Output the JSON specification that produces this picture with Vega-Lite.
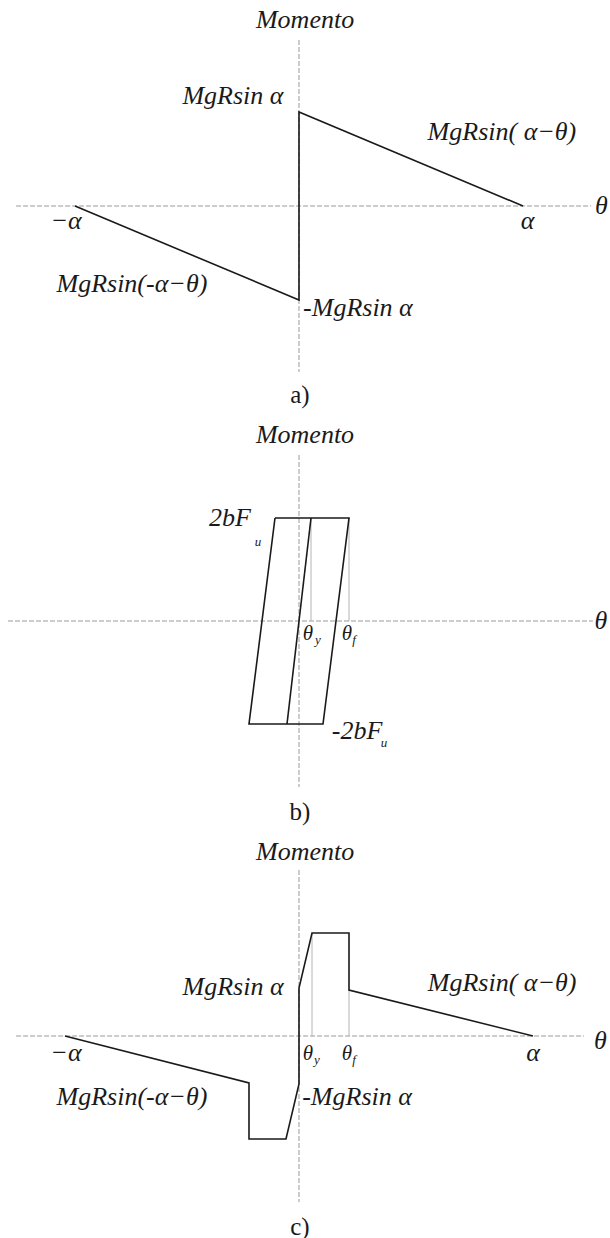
{
  "$schema": "https://vega.github.io/schema/vega-lite/v6.json",
  "background": "white",
  "padding": 0,
  "spacing": 0,
  "config": {"view": {"stroke": null}},
  "datasets": {
    "a_axes": [
      {"t": -1.263, "t2": 1.304, "m": 0, "m2": 0},
      {"t": 0, "t2": 0, "m": 1.766, "m2": -1.766}
    ],
    "a_curve": [
      {"i": 1, "t": -1, "m": 0},
      {"i": 2, "t": 0, "m": -1},
      {"i": 3, "t": 0, "m": 1},
      {"i": 4, "t": 1, "m": 0}
    ],
    "a_labels": [
      {"t": 0.027, "m": 1.979, "label": "Momento"},
      {"t": 1.35, "m": 0, "label": "θ"},
      {"t": -0.295, "m": 1.17, "label": "MgRsin α"},
      {"t": 0.906, "m": 0.787, "label": "MgRsin( α−θ)"},
      {"t": -1.04, "m": -0.16, "label": "−α"},
      {"t": 1.02, "m": -0.16, "label": "α"},
      {"t": -0.746, "m": -0.83, "label": "MgRsin(-α−θ)"},
      {"t": 0.263, "m": -1.085, "label": "-MgRsin α"}
    ],
    "a_caption": [{"t": 0.004, "m": -2.011, "label": "a)"}],
    "b_axes": [
      {"t": -5.82, "t2": 5.88, "m": 0, "m2": 0},
      {"t": 0, "t2": 0, "m": 1.612, "m2": -1.612}
    ],
    "b_guides": [
      {"t": 0.24, "t2": 0.24, "m": 0, "m2": 1},
      {"t": 1, "t2": 1, "m": 0, "m2": 1}
    ],
    "b_curve": [
      {"seg": "loop", "i": 1, "t": -0.48, "m": 1},
      {"seg": "loop", "i": 2, "t": 1, "m": 1},
      {"seg": "loop", "i": 3, "t": 0.48, "m": -1},
      {"seg": "loop", "i": 4, "t": -1, "m": -1},
      {"seg": "loop", "i": 5, "t": -0.48, "m": 1},
      {"seg": "elastic", "i": 1, "t": 0.24, "m": 1},
      {"seg": "elastic", "i": 2, "t": -0.24, "m": -1}
    ],
    "b_labels": [
      {"t": 0.12, "m": 1.806, "label": "Momento"},
      {"t": 6.04, "m": 0, "label": "θ"},
      {"t": -1.38, "m": 1.0, "label": "2bF"},
      {"t": 1.16, "m": -1.068, "label": "-2bF"}
    ],
    "b_theta": [
      {"t": 0.18, "m": -0.126, "label": "θ"},
      {"t": 0.96, "m": -0.126, "label": "θ"}
    ],
    "b_subs": [
      {"t": -0.82, "m": 0.767, "label": "u"},
      {"t": 1.7, "m": -1.184, "label": "u"},
      {"t": 0.38, "m": -0.18, "label": "y"},
      {"t": 1.1, "m": -0.18, "label": "f"}
    ],
    "b_caption": [{"t": 0.02, "m": -1.854, "label": "b)"}],
    "c_axes": [
      {"t": -1.209, "t2": 1.218, "m": 0, "m2": 0},
      {"t": 0, "t2": 0, "m": 3.458, "m2": -3.458}
    ],
    "c_guides": [
      {"t": 0.0556, "t2": 0.0556, "m": 0, "m2": 2.146},
      {"t": 0.2137, "t2": 0.2137, "m": 0, "m2": 0.958}
    ],
    "c_curve": [
      {"i": 1, "t": -1, "m": 0},
      {"i": 2, "t": -0.2137, "m": -0.979},
      {"i": 3, "t": -0.2137, "m": -2.146},
      {"i": 4, "t": -0.0556, "m": -2.146},
      {"i": 5, "t": 0, "m": -1},
      {"i": 6, "t": 0, "m": 1},
      {"i": 7, "t": 0.0556, "m": 2.146},
      {"i": 8, "t": 0.2137, "m": 2.146},
      {"i": 9, "t": 0.2137, "m": 0.958},
      {"i": 10, "t": 1, "m": 0}
    ],
    "c_labels": [
      {"t": 0.026, "m": 3.833, "label": "Momento"},
      {"t": 1.288, "m": -0.1, "label": "θ"},
      {"t": -0.282, "m": 1.021, "label": "MgRsin α"},
      {"t": 0.868, "m": 1.104, "label": "MgRsin( α−θ)"},
      {"t": -0.996, "m": -0.354, "label": "−α"},
      {"t": 1.0, "m": -0.354, "label": "α"},
      {"t": -0.714, "m": -1.271, "label": "MgRsin(-α−θ)"},
      {"t": 0.248, "m": -1.271, "label": "-MgRsin α"}
    ],
    "c_theta": [
      {"t": 0.038, "m": -0.375, "label": "θ"},
      {"t": 0.205, "m": -0.375, "label": "θ"}
    ],
    "c_subs": [
      {"t": 0.076, "m": -0.5, "label": "y"},
      {"t": 0.235, "m": -0.5, "label": "f"}
    ],
    "c_caption": [{"t": 0.004, "m": -3.979, "label": "c)"}]
  },
  "vconcat": [
    {
      "width": 610,
      "height": 413,
      "encoding": {
        "x": {"field": "t", "type": "quantitative", "scale": {"domain": [-1.3348, 1.3884], "nice": false, "zero": false}, "axis": null},
        "y": {"field": "m", "type": "quantitative", "scale": {"domain": [-2.2021, 2.1915], "nice": false, "zero": false}, "axis": null}
      },
      "layer": [
        {
          "data": {"name": "a_axes"},
          "mark": {"type": "rule", "color": "#9a9a9a", "strokeWidth": 1, "strokeDash": [5, 2]},
          "encoding": {"x2": {"field": "t2"}, "y2": {"field": "m2"}}
        },
        {
          "data": {"name": "a_curve"},
          "mark": {"type": "line", "color": "#1a1a1a", "strokeWidth": 1.6},
          "encoding": {"order": {"field": "i"}}
        },
        {
          "data": {"name": "a_labels"},
          "mark": {"type": "text", "font": "Liberation Serif", "fontStyle": "italic", "fontSize": 26, "color": "#1a1a1a", "align": "center", "baseline": "middle"},
          "encoding": {"text": {"field": "label"}}
        },
        {
          "data": {"name": "a_caption"},
          "mark": {"type": "text", "font": "Liberation Serif", "fontSize": 25, "color": "#1a1a1a", "align": "center", "baseline": "middle"},
          "encoding": {"text": {"field": "label"}}
        }
      ]
    },
    {
      "width": 610,
      "height": 413,
      "encoding": {
        "x": {"field": "t", "type": "quantitative", "scale": {"domain": [-5.98, 6.22], "nice": false, "zero": false}, "axis": null},
        "y": {"field": "m", "type": "quantitative", "scale": {"domain": [-1.9903, 2.0194], "nice": false, "zero": false}, "axis": null}
      },
      "layer": [
        {
          "data": {"name": "b_axes"},
          "mark": {"type": "rule", "color": "#9a9a9a", "strokeWidth": 1, "strokeDash": [5, 2]},
          "encoding": {"x2": {"field": "t2"}, "y2": {"field": "m2"}}
        },
        {
          "data": {"name": "b_guides"},
          "mark": {"type": "rule", "color": "#b4b4b4", "strokeWidth": 1},
          "encoding": {"x2": {"field": "t2"}, "y2": {"field": "m2"}}
        },
        {
          "data": {"name": "b_curve"},
          "mark": {"type": "line", "color": "#1a1a1a", "strokeWidth": 1.6},
          "encoding": {"detail": {"field": "seg"}, "order": {"field": "i"}}
        },
        {
          "data": {"name": "b_labels"},
          "mark": {"type": "text", "font": "Liberation Serif", "fontStyle": "italic", "fontSize": 26, "color": "#1a1a1a", "align": "center", "baseline": "middle"},
          "encoding": {"text": {"field": "label"}}
        },
        {
          "data": {"name": "b_theta"},
          "mark": {"type": "text", "font": "Liberation Serif", "fontStyle": "italic", "fontSize": 21, "color": "#1a1a1a", "align": "center", "baseline": "middle"},
          "encoding": {"text": {"field": "label"}}
        },
        {
          "data": {"name": "b_subs"},
          "mark": {"type": "text", "font": "Liberation Serif", "fontStyle": "italic", "fontSize": 13, "color": "#1a1a1a", "align": "center", "baseline": "middle"},
          "encoding": {"text": {"field": "label"}}
        },
        {
          "data": {"name": "b_caption"},
          "mark": {"type": "text", "font": "Liberation Serif", "fontSize": 25, "color": "#1a1a1a", "align": "center", "baseline": "middle"},
          "encoding": {"text": {"field": "label"}}
        }
      ]
    },
    {
      "width": 610,
      "height": 412,
      "encoding": {
        "x": {"field": "t", "type": "quantitative", "scale": {"domain": [-1.2778, 1.3291], "nice": false, "zero": false}, "axis": null},
        "y": {"field": "m", "type": "quantitative", "scale": {"domain": [-4.2083, 4.375], "nice": false, "zero": false}, "axis": null}
      },
      "layer": [
        {
          "data": {"name": "c_axes"},
          "mark": {"type": "rule", "color": "#9a9a9a", "strokeWidth": 1, "strokeDash": [5, 2]},
          "encoding": {"x2": {"field": "t2"}, "y2": {"field": "m2"}}
        },
        {
          "data": {"name": "c_guides"},
          "mark": {"type": "rule", "color": "#b4b4b4", "strokeWidth": 1},
          "encoding": {"x2": {"field": "t2"}, "y2": {"field": "m2"}}
        },
        {
          "data": {"name": "c_curve"},
          "mark": {"type": "line", "color": "#1a1a1a", "strokeWidth": 1.6},
          "encoding": {"order": {"field": "i"}}
        },
        {
          "data": {"name": "c_labels"},
          "mark": {"type": "text", "font": "Liberation Serif", "fontStyle": "italic", "fontSize": 26, "color": "#1a1a1a", "align": "center", "baseline": "middle"},
          "encoding": {"text": {"field": "label"}}
        },
        {
          "data": {"name": "c_theta"},
          "mark": {"type": "text", "font": "Liberation Serif", "fontStyle": "italic", "fontSize": 21, "color": "#1a1a1a", "align": "center", "baseline": "middle"},
          "encoding": {"text": {"field": "label"}}
        },
        {
          "data": {"name": "c_subs"},
          "mark": {"type": "text", "font": "Liberation Serif", "fontStyle": "italic", "fontSize": 13, "color": "#1a1a1a", "align": "center", "baseline": "middle"},
          "encoding": {"text": {"field": "label"}}
        },
        {
          "data": {"name": "c_caption"},
          "mark": {"type": "text", "font": "Liberation Serif", "fontSize": 25, "color": "#1a1a1a", "align": "center", "baseline": "middle"},
          "encoding": {"text": {"field": "label"}}
        }
      ]
    }
  ]
}
